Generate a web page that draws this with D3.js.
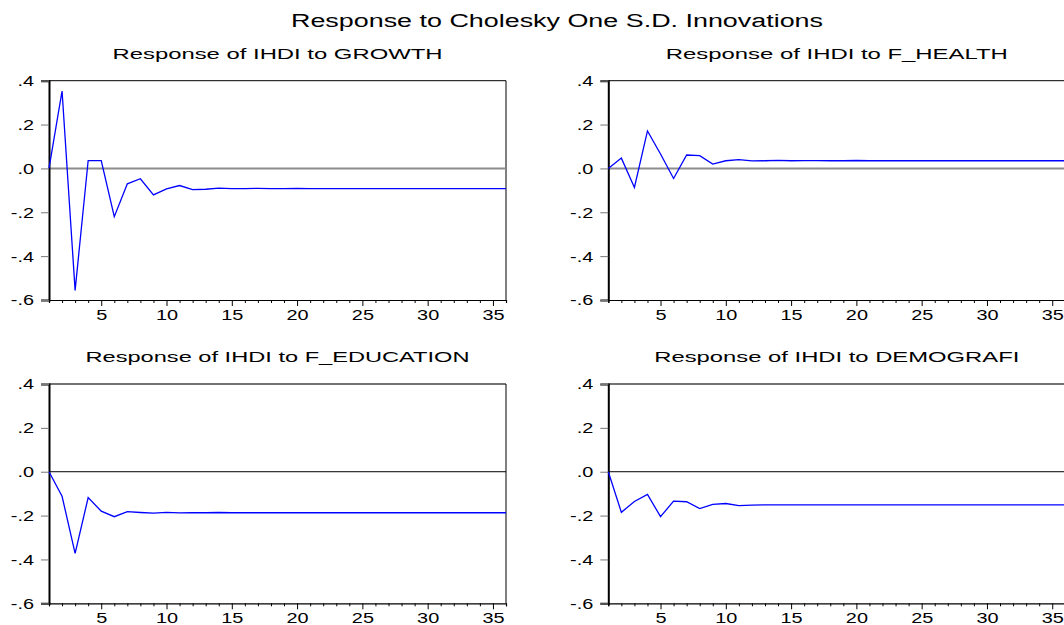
<!DOCTYPE html>
<html>
<head>
<meta charset="utf-8">
<script src="https://cdn.jsdelivr.net/npm/d3@7"></script>
<style>
  html, body { margin: 0; padding: 0; background: #fff; }
  svg { display: block; font-family: "Liberation Sans", Arial, sans-serif; }
</style>
</head>
<body>
<svg id="chart" width="1064" height="625"></svg>
<script>
// ---------------- data ----------------
const chartTitle = "Response to Cholesky One S.D. Innovations";
const panelTitles = [
  "Response of IHDI to GROWTH",
  "Response of IHDI to F_HEALTH",
  "Response of IHDI to F_EDUCATION",
  "Response of IHDI to DEMOGRAFI"
];
const periods = d3.range(1, 37); // 1..36

const growth = [0, 0.353, -0.556, 0.036, 0.036, -0.220, -0.070, -0.047, -0.121, -0.093, -0.078, -0.097,
  -0.095, -0.090, -0.092, -0.092, -0.091, -0.092, -0.092, -0.091, -0.092, -0.092, -0.092, -0.092,
  -0.092, -0.092, -0.092, -0.092, -0.092, -0.092, -0.092, -0.092, -0.092, -0.092, -0.092, -0.092];
const fHealth = [0, 0.047, -0.087, 0.171, 0.066, -0.046, 0.061, 0.058, 0.020, 0.035, 0.040, 0.034,
  0.035, 0.037, 0.035, 0.036, 0.036, 0.035, 0.035, 0.036, 0.035, 0.035, 0.035, 0.035,
  0.035, 0.035, 0.035, 0.035, 0.035, 0.035, 0.035, 0.035, 0.035, 0.035, 0.035, 0.035];
const fEducation = [0, -0.112, -0.372, -0.118, -0.180, -0.205, -0.182, -0.186, -0.189, -0.185, -0.188, -0.187,
  -0.187, -0.186, -0.187, -0.187, -0.187, -0.187, -0.187, -0.187, -0.187, -0.187, -0.187, -0.187,
  -0.187, -0.187, -0.187, -0.187, -0.187, -0.187, -0.187, -0.187, -0.187, -0.187, -0.187, -0.187];
const demografi = [0, -0.185, -0.136, -0.103, -0.205, -0.134, -0.137, -0.168, -0.149, -0.145, -0.155, -0.152,
  -0.151, -0.151, -0.151, -0.151, -0.151, -0.151, -0.151, -0.151, -0.151, -0.151, -0.151, -0.151,
  -0.151, -0.151, -0.151, -0.151, -0.151, -0.151, -0.151, -0.151, -0.151, -0.151, -0.151, -0.151];
const seriesList = [growth, fHealth, fEducation, demografi];

const yTicks = [0.4, 0.2, 0.0, -0.2, -0.4, -0.6];
const xMajorTicks = [5, 10, 15, 20, 25, 30, 35];
const yDomain = [-0.6, 0.4];

// ---------------- layout ----------------
const svg = d3.select("#chart");
const STRETCH = 1.42;
const panelW = 457, panelH = 219.3;
const panelPos = [
  { x: 49, y: 80.7, top: true },
  { x: 608.3, y: 80.7, top: true },
  { x: 49, y: 384, top: false },
  { x: 608.3, y: 384, top: false }
];
const subtitleWidths = [330, 342, 384, 365];

function stretch(sel, factor) {
  sel.each(function () {
    const w = this.getComputedTextLength();
    d3.select(this).attr("textLength", w * factor).attr("lengthAdjust", "spacingAndGlyphs");
  });
}

svg.append("text")
  .attr("x", 557).attr("y", 27)
  .attr("text-anchor", "middle")
  .attr("font-size", 18)
  .attr("fill", "#000")
  .text(chartTitle)
  .attr("textLength", 532).attr("lengthAdjust", "spacingAndGlyphs");

const fmtY = d => {
  if (Math.abs(d) < 1e-9) return ".0";
  const s = d3.format(".1f")(Math.abs(d)).replace(/^0/, "");
  return (d < 0 ? "-" : "") + s;
};

panelPos.forEach((p, i) => {
  const g = svg.append("g").attr("transform", `translate(${p.x},${p.y})`);
  const x = d3.scaleLinear().domain([1, 36]).range([0, panelW]);
  const y = d3.scaleLinear().domain(yDomain).range([panelH, 0]);

  // subtitle
  svg.append("text")
    .attr("x", p.x + panelW / 2).attr("y", p.y - 22)
    .attr("text-anchor", "middle")
    .attr("font-size", 15.5)
    .attr("fill", "#000")
    .text(panelTitles[i])
    .attr("textLength", subtitleWidths[i]).attr("lengthAdjust", "spacingAndGlyphs");

  // frame (top + right)
  g.append("line").attr("x1", 0).attr("x2", panelW).attr("y1", 0).attr("y2", 0)
    .attr("stroke", p.top ? "#000" : "#444").attr("stroke-width", p.top ? 1 : 1.5);
  g.append("line").attr("x1", panelW).attr("x2", panelW).attr("y1", 0).attr("y2", panelH)
    .attr("stroke", "#000").attr("stroke-width", 1);

  // zero line
  g.append("line").attr("x1", 0).attr("x2", panelW).attr("y1", y(0)).attr("y2", y(0))
    .attr("stroke", p.top ? "#8c8c8c" : "#000").attr("stroke-width", p.top ? 2 : 1);

  // y axis
  const yAxis = g.append("g")
    .call(d3.axisLeft(y).tickValues(yTicks).tickFormat(fmtY).tickSize(8).tickPadding(7));
  yAxis.select(".domain").attr("stroke", "#000").attr("stroke-width", 2);
  yAxis.selectAll(".tick line").attr("stroke", "#777");
  yAxis.selectAll(".tick text").attr("font-size", 14).attr("font-family", "Liberation Sans, Arial, sans-serif")
    .attr("fill", "#000").attr("dy", "0.35em");
  stretch(yAxis.selectAll(".tick text"), STRETCH);

  // x axis: minor ticks
  const xMinor = g.append("g").attr("transform", `translate(0,${panelH})`)
    .call(d3.axisBottom(x).tickValues(periods.filter(d => d % 5 !== 0)).tickFormat("").tickSize(3));
  xMinor.select(".domain").attr("stroke", "#000").attr("stroke-width", 1.2);
  xMinor.selectAll(".tick line").attr("stroke", "#000");
  // x axis: major ticks with labels
  const xMajor = g.append("g").attr("transform", `translate(0,${panelH})`)
    .call(d3.axisBottom(x).tickValues(xMajorTicks).tickFormat(d3.format("d")).tickSize(6).tickPadding(4));
  xMajor.select(".domain").remove();
  xMajor.selectAll(".tick line").attr("stroke", "#000");
  xMajor.selectAll(".tick text").attr("font-size", 14).attr("font-family", "Liberation Sans, Arial, sans-serif")
    .attr("fill", "#000");
  stretch(xMajor.selectAll(".tick text"), STRETCH);

  // response line
  const line = d3.line().x((d, k) => x(periods[k])).y(d => y(d));
  g.append("path").datum(seriesList[i])
    .attr("d", line)
    .attr("fill", "none")
    .attr("stroke", "#0000ff")
    .attr("stroke-width", 1.3)
    .attr("stroke-linejoin", "miter");
});
</script>
</body>
</html>
